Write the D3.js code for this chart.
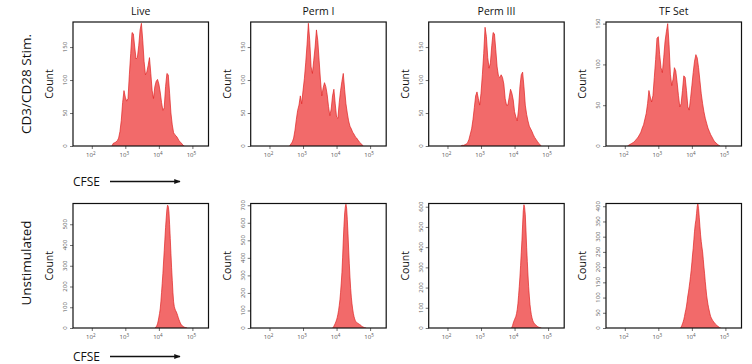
<!DOCTYPE html>
<html><head><meta charset="utf-8">
<script src="https://cdn.jsdelivr.net/npm/d3@7"></script>
<style>
html,body{margin:0;padding:0;background:#fff;}
svg{display:block;}
text{font-family:"Open Sans","Noto Sans",sans-serif;}
</style></head>
<body>
<svg id="chart" width="752" height="364"></svg>
<script>
// ---------------- data ----------------
const panelTitles = ["Live", "Perm I", "Perm III", "TF Set"];
const rowLabels = ["CD3/CD28 Stim.", "Unstimulated"];
const xTickExps = [2, 3, 4, 5];
const xDomainLog = [1.44, 5.48];

// stimulated row: bins in log10(CFSE), start + i*step
const stimStep = 0.04;
const stimStart = [2.60, 2.60, 2.40, 2.08];
const stimYMax = [188, 188, 188, 152];
const stimYTicks = [[0, 50, 100, 150], [0, 50, 100, 150], [0, 50, 100, 150], [0, 50, 100, 150]];
const liveStim = [0,4,5,6,8,12,22,39,66,84,74,68,72,108,140,172,170,150,132,134,152,176,186,160,128,108,112,122,134,110,84,72,90,98,101,94,82,66,54,58,90,110,108,80,50,32,20,17,15,12,8,6,4,1,0];
const perm1Stim = [0,3,6,12,24,40,54,62,76,64,84,102,126,154,186,160,120,110,130,150,176,160,130,100,76,88,96,90,78,60,46,56,76,86,64,44,42,66,84,98,110,86,64,50,38,30,26,21,18,14,12,9,6,4,2,0];
const perm3Stim = [0,1,1,2,3,5,10,18,26,40,58,76,82,72,62,80,108,140,180,166,134,118,126,152,172,170,146,120,106,104,108,104,94,72,62,62,74,86,80,70,52,44,38,56,90,108,112,90,62,48,38,30,26,22,17,13,10,7,4,2,0];
const tfStim = [0,1,2,3,4,5,7,9,11,14,17,22,26,33,40,52,68,60,54,62,84,106,132,134,112,96,90,108,128,140,150,124,88,74,82,96,92,78,62,48,52,68,86,84,68,48,44,58,74,90,104,112,108,96,80,64,52,42,34,28,22,18,14,11,8,5,4,2,1,0];

// unstimulated row
const unstimStep = 0.02;
const unstimStart = [3.88, 3.88, 3.90, 3.66];
const unstimYMax = [600, 710, 616, 409];
const unstimYTicks = [[0,100,200,300,400,500], [0,100,200,300,400,500,600,700], [0,100,200,300,400,500,600], [0,50,100,150,200,250,300,350,400]];
const liveUnstim = [0,2,6,12,20,34,52,70,92,126,170,215,262,318,372,428,484,530,572,592,586,560,500,432,360,290,230,170,126,104,92,84,78,70,60,50,40,32,24,18,14,10,8,6,4,3,2,1,0];
const perm1Unstim = [0,4,10,18,26,36,46,60,78,100,128,160,204,256,316,400,496,580,650,690,706,684,620,540,450,366,290,226,176,138,108,84,66,52,42,36,32,28,26,24,22,18,15,12,9,7,5,3,2,1,0];
const perm3Unstim = [0,3,12,24,34,42,50,58,72,92,120,160,204,252,310,372,434,510,580,610,596,560,484,400,330,262,204,158,116,88,66,50,38,30,24,20,17,14,11,8,6,4,3,2,1,0];
const tfUnstim = [0,3,8,14,20,28,38,50,60,72,88,106,118,135,152,170,190,214,240,262,290,318,340,354,376,400,408,392,364,334,306,284,266,250,226,200,178,152,130,108,92,78,66,56,46,38,33,29,25,22,19,16,13,11,9,7,5,4,2,1,0];

const stimSeries = [liveStim, perm1Stim, perm3Stim, tfStim];
const unstimSeries = [liveUnstim, perm1Unstim, perm3Unstim, tfUnstim];

// ---------------- layout ----------------
const svg = d3.select("#chart");
const panelLefts = [73, 250.7, 428.7, 606];
const panelW = 135.5;
const rows = [
  {top: 22, h: 124, series: stimSeries, start: stimStart, step: stimStep, ymax: stimYMax, yticks: stimYTicks, label: rowLabels[0], labelY: 84, cfseY: 186},
  {top: 203.5, h: 124.5, series: unstimSeries, start: unstimStart, step: unstimStep, ymax: unstimYMax, yticks: unstimYTicks, label: rowLabels[1], labelY: 263, cfseY: 361}
];
const fillCol = "#f26a6a";
const lineCol = "#e02424";

const defs = svg.append("defs");
defs.append("marker").attr("id", "arrow").attr("viewBox", "0 0 10 10")
  .attr("refX", 9).attr("refY", 5).attr("markerWidth", 4).attr("markerHeight", 4)
  .attr("orient", "auto")
  .append("path").attr("d", "M0,1 L10,5 L0,9 Z").attr("fill", "#111");

rows.forEach((row, ri) => {
  // row label
  svg.append("text")
    .attr("transform", `translate(31,${row.labelY}) rotate(-90)`)
    .attr("text-anchor", "middle")
    .attr("font-size", 13.5).attr("fill", "#111")
    .text(row.label);

  panelTitles.forEach((title, pi) => {
    const left = panelLefts[pi];
    const x = d3.scaleLog().domain(xDomainLog.map(e => Math.pow(10, e))).range([left, left + panelW]);
    const y = d3.scaleLinear().domain([0, row.ymax[pi]]).range([row.top + row.h, row.top]);
    const pts = row.series[pi].map((c, i) => ({v: Math.pow(10, row.start[pi] + i * row.step), c}));

    const clipId = `clip${ri}_${pi}`;
    defs.append("clipPath").attr("id", clipId).append("rect")
      .attr("x", left).attr("y", row.top).attr("width", panelW).attr("height", row.h);

    const g = svg.append("g");
    const area = d3.area().x(d => x(d.v)).y0(y(0)).y1(d => y(d.c));
    const line = d3.line().x(d => x(d.v)).y(d => y(d.c));
    g.append("path").datum(pts).attr("clip-path", `url(#${clipId})`)
      .attr("d", area).attr("fill", fillCol);
    g.append("path").datum(pts).attr("clip-path", `url(#${clipId})`)
      .attr("d", line).attr("fill", "none").attr("stroke", lineCol).attr("stroke-width", 0.7);

    // x axis
    const xAxis = d3.axisBottom(x).tickValues(xTickExps.map(e => Math.pow(10, e))).tickSize(3).tickFormat("");
    const xg = svg.append("g").attr("transform", `translate(0,${row.top + row.h})`).call(xAxis);
    xg.select(".domain").remove();
    xg.selectAll(".tick line").attr("stroke", "#333").attr("stroke-width", 0.7);
    xTickExps.forEach(e => {
      const t = svg.append("text").attr("x", x(Math.pow(10, e)) - 1).attr("y", row.top + row.h + 11)
        .attr("text-anchor", "middle").attr("font-size", 6).attr("fill", "#555");
      t.append("tspan").text("10");
      t.append("tspan").attr("dy", -2.5).attr("font-size", 4.5).text(e);
    });

    // y axis
    const yAxis = d3.axisLeft(y).tickValues(row.yticks[pi]).tickSize(3).tickFormat("");
    const yg = svg.append("g").attr("transform", `translate(${left},0)`).call(yAxis);
    yg.select(".domain").remove();
    yg.selectAll(".tick line").attr("stroke", "#333").attr("stroke-width", 0.7);
    row.yticks[pi].forEach(v => {
      svg.append("text")
        .attr("transform", `translate(${left - 6},${y(v)}) rotate(-90)`)
        .attr("text-anchor", "middle").attr("font-size", 6).attr("fill", "#555")
        .text(v);
    });

    // frame
    svg.append("rect").attr("x", left).attr("y", row.top).attr("width", panelW).attr("height", row.h)
      .attr("fill", "none").attr("stroke", "#111").attr("stroke-width", 1.2);

    // Count label
    svg.append("text")
      .attr("transform", `translate(${left - 20},${row.top + row.h / 2}) rotate(-90)`)
      .attr("text-anchor", "middle").attr("font-size", 10.5).attr("fill", "#111")
      .text("Count");

    // titles (top row only)
    if (ri === 0) {
      svg.append("text").attr("x", left + panelW / 2).attr("y", 15)
        .attr("text-anchor", "middle").attr("font-size", 10.5).attr("fill", "#111")
        .text(title);
    }
  });

  // CFSE label with arrow
  const cy = row.cfseY;
  svg.append("text").attr("x", 73).attr("y", cy).attr("font-size", 12).attr("fill", "#111").text("CFSE");
  svg.append("line").attr("x1", 110).attr("x2", 180).attr("y1", cy - 4.5).attr("y2", cy - 4.5)
    .attr("stroke", "#111").attr("stroke-width", 1.6).attr("marker-end", "url(#arrow)");
});
</script>
</body></html>
